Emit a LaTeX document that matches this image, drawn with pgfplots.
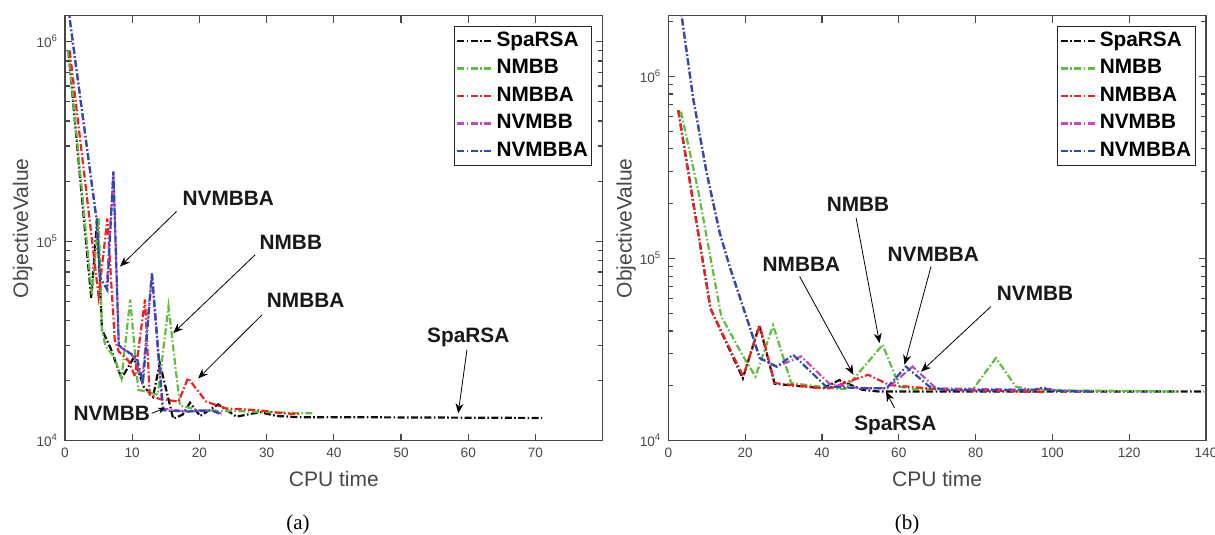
\documentclass[border=0pt]{standalone}
\usepackage{fontspec}
\setmainfont{Liberation Sans}
\newfontfamily\seriffont{Liberation Serif}
\usepackage{pgfplots}
\pgfplotsset{compat=1.18}
\usetikzlibrary{arrows.meta}

\definecolor{cblack}{rgb}{0.05,0.05,0.05}
\definecolor{cgreen}{rgb}{0.38,0.74,0.25}
\definecolor{cred}{rgb}{0.95,0.13,0.13}
\definecolor{cmag}{rgb}{0.75,0.30,0.72}
\definecolor{cblue}{rgb}{0.17,0.30,0.68}
\definecolor{axgray}{rgb}{0.28,0.28,0.28}

\tikzset{
  ann/.style={font=\bfseries\fontsize{10.4}{12}\selectfont, text=black!90},
  arr/.style={-{Stealth[length=5pt,width=4pt]}, line width=0.4pt, draw=black},
}

\pgfplotsset{
  every axis/.append style={
    scale only axis, width=268.85pt, height=212.5pt,
    ymin=1e4,
    axis line style={draw=axgray, line width=0.55pt},
    tick style={color=axgray, line width=0.6pt, solid},
    tick align=inside, xtick pos=both, ytick pos=both,
    major tick length=3.5pt, minor tick length=2.5pt,
    tick label style={font=\fontsize{6.8}{7}\selectfont, text=axgray},
    /pgf/number format/assume math mode=true,
    ytick={1e4,1e5,1e6},
    minor ytick={2e4,3e4,4e4,5e4,6e4,7e4,8e4,9e4,2e5,3e5,4e5,5e5,6e5,7e5,8e5,9e5,2e6},
    yticklabels={10\textsuperscript{4},10\textsuperscript{5},10\textsuperscript{6}},
    xlabel={CPU time}, ylabel={ObjectiveValue},
    label style={font=\fontsize{10.5}{12}\selectfont, text=axgray},
    xlabel style={at={([yshift=-23pt]axis description cs:0.5,0)}, anchor=base},
    ylabel style={at={([xshift=-18.4pt]axis description cs:0,0.5)}, anchor=base},
    legend style={at={(1,1)}, anchor=north east, xshift=-5.2pt, yshift=-5pt,
      draw=black!85, line width=0.5pt, fill=white,
      font=\bfseries\fontsize{10.4}{12}\selectfont,
      inner xsep=1pt, inner ysep=1pt, row sep=0.85pt,
      nodes={inner ysep=1.5pt, inner xsep=1pt, text height=7.6pt, text depth=2.3pt},
      cells={anchor=west}},
  },
  every axis plot/.append style={line width=1.1pt,
      dash pattern=on 3.5pt off 1.2pt on 0.8pt off 1.2pt},
  legend image code/.code={\draw[#1] (0pt,0pt) -- (18pt,0pt);},
}

\begin{document}
\begin{tikzpicture}
\useasboundingbox (0,0) rectangle (607.5pt,267.5pt);

% ---------------- (a) ----------------
\begin{semilogyaxis}[at={(32.5pt,47.15pt)}, anchor=south west,
  xmin=0, xmax=80, xtick={0,10,...,70}, ymax=1.35e6]
\addplot[cblack] coordinates {(0.5,9.0e5)(3.9,5.2e4)(4.8,1.3e5)(5.5,3.6e4)(6.8,2.9e4)(8.4,2.05e4)(10.2,2.6e4)(11.7,1.87e4)(13.1,1.66e4)(14.1,2.45e4)(16.1,1.29e4)(17.5,1.35e4)(18.6,1.55e4)(20.1,1.33e4)(22.8,1.52e4)(25.5,1.32e4)(29.0,1.39e4)(31.5,1.33e4)(35,1.31e4)(45,1.31e4)(71,1.30e4)};
\addlegendentry{SpaRSA}
\addplot[cgreen] coordinates {(0.5,9.1e5)(4.0,5.4e4)(5.0,1.3e5)(5.5,3.6e4)(6.0,3.0e4)(7.4,2.6e4)(8.4,2.05e4)(9.7,5.1e4)(10.9,1.8e4)(13.8,1.7e4)(15.4,4.7e4)(17.1,1.5e4)(20,1.42e4)(25,1.41e4)(30,1.39e4)(37,1.37e4)};
\addlegendentry{NMBB}
\addplot[cred] coordinates {(0.7,9.0e5)(5.0,5.3e4)(6.3,1.3e5)(7.4,3.2e4)(8.0,2.8e4)(9.5,2.5e4)(10.4,2.1e4)(11.9,5.1e4)(12.6,1.7e4)(14,1.62e4)(16.9,1.57e4)(18.3,2.06e4)(21,1.57e4)(24,1.45e4)(29,1.42e4)(32.5,1.37e4)(35,1.36e4)};
\addlegendentry{NMBBA}
\addplot[cmag] coordinates {(0.2,1.74e6)(4.7,1.28e5)(5.2,6.6e4)(6.2,5.8e4)(7.2,2.2e5)(8.0,3.0e4)(10.4,2.6e4)(11.5,2.0e4)(12.9,6.8e4)(14.5,1.45e4)(18,1.4e4)(22,1.42e4)(23.5,1.36e4)};
\addlegendentry{NVMBB}
\addplot[cblue] coordinates {(0.2,1.74e6)(4.7,1.28e5)(5.2,6.6e4)(6.3,5.7e4)(7.2,2.24e5)(8.0,3.0e4)(10.7,2.6e4)(11.6,1.95e4)(12.95,6.9e4)(14.6,1.42e4)(18.1,1.4e4)(21.8,1.42e4)(23.3,1.35e4)};
\addlegendentry{NVMBBA}

\node[ann] at (axis cs:24.3,1.64e5) {NVMBBA};
\draw[arr] (axis cs:16.6,1.41e5) -- (axis cs:8.18,7.46e4);
\node[ann] at (axis cs:33.6,9.87e4) {NMBB};
\draw[arr] (axis cs:28.3,8.55e4) -- (axis cs:16.1,3.46e4);
\node[ann] at (axis cs:35.8,5.05e4) {NMBBA};
\draw[arr] (axis cs:29.3,4.27e4) -- (axis cs:19.8,2.05e4);
\node[ann] at (axis cs:60.0,3.3e4) {SpaRSA};
\draw[arr] (axis cs:59.8,2.85e4) -- (axis cs:58.5,1.37e4);
\node[ann] at (axis cs:6.95,1.368e4) {NVMBB};
\draw[-{Stealth[length=3.5pt,width=3pt]}, line width=0.4pt, draw=black] (axis cs:12.9,1.37e4) -- (axis cs:14.88,1.46e4);
\end{semilogyaxis}

% ---------------- (b) ----------------
\begin{semilogyaxis}[at={(334.15pt,47.15pt)}, anchor=south west,
  xmin=0, xmax=140, xtick={0,20,...,140}, ymax=2.15e6]
\addplot[cblack] coordinates {(2.6,6.5e5)(11.0,5.3e4)(19.4,2.2e4)(23.7,4.3e4)(27.7,2.05e4)(40.3,1.94e4)(44.5,2.15e4)(50.6,1.9e4)(55,1.86e4)(139.5,1.86e4)};
\addlegendentry{SpaRSA}
\addplot[cgreen] coordinates {(3.3,6.4e5)(7.7,2.4e5)(13.8,4.8e4)(19.5,2.9e4)(22.7,2.25e4)(27.3,4.3e4)(32.0,2.07e4)(42.9,1.94e4)(46,1.92e4)(55.8,3.36e4)(60.2,1.98e4)(63.6,1.92e4)(79.2,1.9e4)(85.3,2.84e4)(90.5,1.98e4)(94.8,1.9e4)(132.5,1.86e4)};
\addlegendentry{NMBB}
\addplot[cred] coordinates {(2.6,6.5e5)(6.5,2.0e5)(11.0,5.3e4)(19.5,2.25e4)(23.8,4.3e4)(27.7,2.07e4)(40.3,1.94e4)(42,1.94e4)(52,2.3e4)(57.6,2.02e4)(72.3,1.9e4)(98,1.85e4)};
\addlegendentry{NMBBA}
\addplot[cmag] coordinates {(2.6,2.9e6)(6.5,7.5e5)(10,2.94e5)(13.4,1.38e5)(16,9e4)(21.2,4.2e4)(23.8,2.84e4)(28.2,2.55e4)(34.6,2.9e4)(42,2.05e4)(50,1.94e4)(57,1.94e4)(63.6,2.55e4)(69.7,1.94e4)(95,1.9e4)(98,1.95e4)(101,1.88e4)(110,1.86e4)};
\addlegendentry{NVMBB}
\addplot[cblue] coordinates {(2.6,2.9e6)(6.5,7.5e5)(10,2.94e5)(13.4,1.38e5)(16,9e4)(21.2,4.2e4)(23.8,2.84e4)(28.2,2.55e4)(32.5,2.96e4)(41.1,1.98e4)(50.6,1.94e4)(56.8,1.94e4)(61.9,2.55e4)(68,1.98e4)(72,1.9e4)(95,1.9e4)(97.3,1.95e4)(100,1.88e4)(110,1.86e4)};
\addlegendentry{NVMBBA}

\node[ann] at (axis cs:49.4,1.97e5) {NMBB};
\draw[arr] (axis cs:48.9,1.67e5) -- (axis cs:55.0,3.43e4);
\node[ann] at (axis cs:34.65,9.29e4) {NMBBA};
\draw[arr] (axis cs:34.2,7.96e4) -- (axis cs:48.2,2.3e4);
\node[ann] at (axis cs:69.0,1.05e5) {NVMBBA};
\draw[arr] (axis cs:68.4,9.04e4) -- (axis cs:61.5,2.61e4);
\node[ann] at (axis cs:95.5,6.44e4) {NVMBB};
\draw[arr] (axis cs:84.0,5.45e4) -- (axis cs:65.8,2.39e4);
\node[ann] at (axis cs:59.1,1.21e4) {SpaRSA};
\draw[arr] (axis cs:58.9,1.51e4) -- (axis cs:56.7,1.86e4);
\end{semilogyaxis}

\node[font=\seriffont\fontsize{10.5}{12}\selectfont, anchor=base] at (149pt,2.5pt) {(a)};
\node[font=\seriffont\fontsize{10.5}{12}\selectfont, anchor=base] at (453.5pt,2.5pt) {(b)};
\end{tikzpicture}
\end{document}
